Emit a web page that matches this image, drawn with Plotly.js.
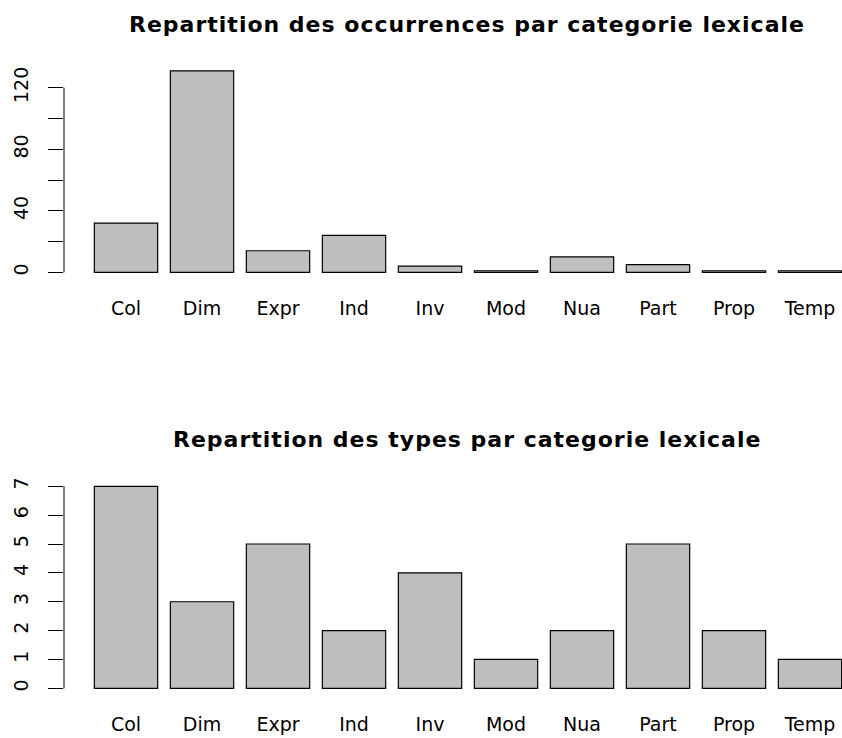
<!DOCTYPE html>
<html>
<head>
<meta charset="utf-8">
<script src="https://cdn.plot.ly/plotly-3.0.1.min.js"></script>
<style>
html, body { margin: 0; padding: 0; background: #fff; }
#chart { width: 842px; height: 738px; }
</style>
</head>
<body>
<div id="chart"></div>
<script>
// ---- data ----
const categories = ['Col', 'Dim', 'Expr', 'Ind', 'Inv', 'Mod', 'Nua', 'Part', 'Prop', 'Temp'];
const occurrences = [32, 131, 14, 24, 4, 1, 10, 5, 1, 1];
const types = [7, 3, 5, 2, 4, 1, 2, 5, 2, 1];
const occTicks = [0, 20, 40, 60, 80, 100, 120];
const occTickLabels = ['0', '', '40', '', '80', '', '120'];
const typeTicks = [0, 1, 2, 3, 4, 5, 6, 7];
const typeTickLabels = ['0', '1', '2', '3', '4', '5', '6', '7'];
const titleOcc = 'Repartition des occurrences par categorie lexicale';
const titleTypes = 'Repartition des types par categorie lexicale';

// ---- styles ----
const FONT = 'DejaVu Sans, Liberation Sans, Arial, sans-serif';
const barFill = '#BEBEBE';

function yr(vals) {
  const m = Math.max.apply(null, vals);
  return [-0.04 * m, 1.04 * m];
}

const barStyle = {
  color: barFill,
  line: { color: '#000000', width: 1.2 }
};

const traces = [
  { type: 'bar', x: categories, y: occurrences, xaxis: 'x', yaxis: 'y', marker: barStyle, hoverinfo: 'x+y' },
  { type: 'bar', x: categories, y: types, xaxis: 'x2', yaxis: 'y2', marker: barStyle, hoverinfo: 'x+y' }
];

const xCommon = {
  type: 'category',
  range: [-0.816, 9.421],
  showgrid: false, zeroline: false, showline: false,
  ticks: '',
  tickfont: { family: FONT, size: 19, color: '#000' },
  ticklabelstandoff: 15,
  automargin: false,
  fixedrange: true
};

const yCommon = {
  showgrid: false, zeroline: false, showline: false,
  ticks: 'outside', ticklen: 15, tickwidth: 1, tickcolor: '#000',
  tickangle: -90,
  tickfont: { family: FONT, size: 19, color: '#000' },
  ticklabelstandoff: 12,
  automargin: false,
  fixedrange: true
};

function boldTitle(t) {
  return '<b><span style="letter-spacing:1px">' + t + '</span></b>';
}

const layout = {
  width: 842, height: 738,
  margin: { l: 64, r: 0, t: 0, b: 0, pad: 0 },
  paper_bgcolor: '#fff', plot_bgcolor: '#fff',
  showlegend: false,
  bargap: 1 / 6,
  xaxis: Object.assign({}, xCommon, { domain: [0, 1], anchor: 'y' }),
  yaxis: Object.assign({}, yCommon, {
    domain: [0.6201, 0.9150], anchor: 'x',
    range: yr(occurrences), tickvals: occTicks, ticktext: occTickLabels
  }),
  xaxis2: Object.assign({}, xCommon, { domain: [0, 1], anchor: 'y2' }),
  yaxis2: Object.assign({}, yCommon, {
    domain: [0.05637, 0.35203], anchor: 'x2',
    range: yr(types), tickvals: typeTicks, ticktext: typeTickLabels
  }),
  shapes: [
    { type: 'line', xref: 'x domain', yref: 'y', x0: 0, x1: 0,
      y0: occTicks[0], y1: occTicks[occTicks.length - 1], line: { color: '#000', width: 1 } },
    { type: 'line', xref: 'x2 domain', yref: 'y2', x0: 0, x1: 0,
      y0: typeTicks[0], y1: typeTicks[typeTicks.length - 1], line: { color: '#000', width: 1 } }
  ],
  annotations: [
    { text: boldTitle(titleOcc), xref: 'paper', yref: 'paper', x: 0.5184, y: 0.9663,
      xanchor: 'center', yanchor: 'middle', showarrow: false,
      font: { family: FONT, size: 22, color: '#000' } },
    { text: boldTitle(titleTypes), xref: 'paper', yref: 'paper', x: 0.5184, y: 0.4045,
      xanchor: 'center', yanchor: 'middle', showarrow: false,
      font: { family: FONT, size: 22, color: '#000' } }
  ]
};

Plotly.newPlot('chart', traces, layout, { displayModeBar: false, staticPlot: true });
</script>
</body>
</html>
